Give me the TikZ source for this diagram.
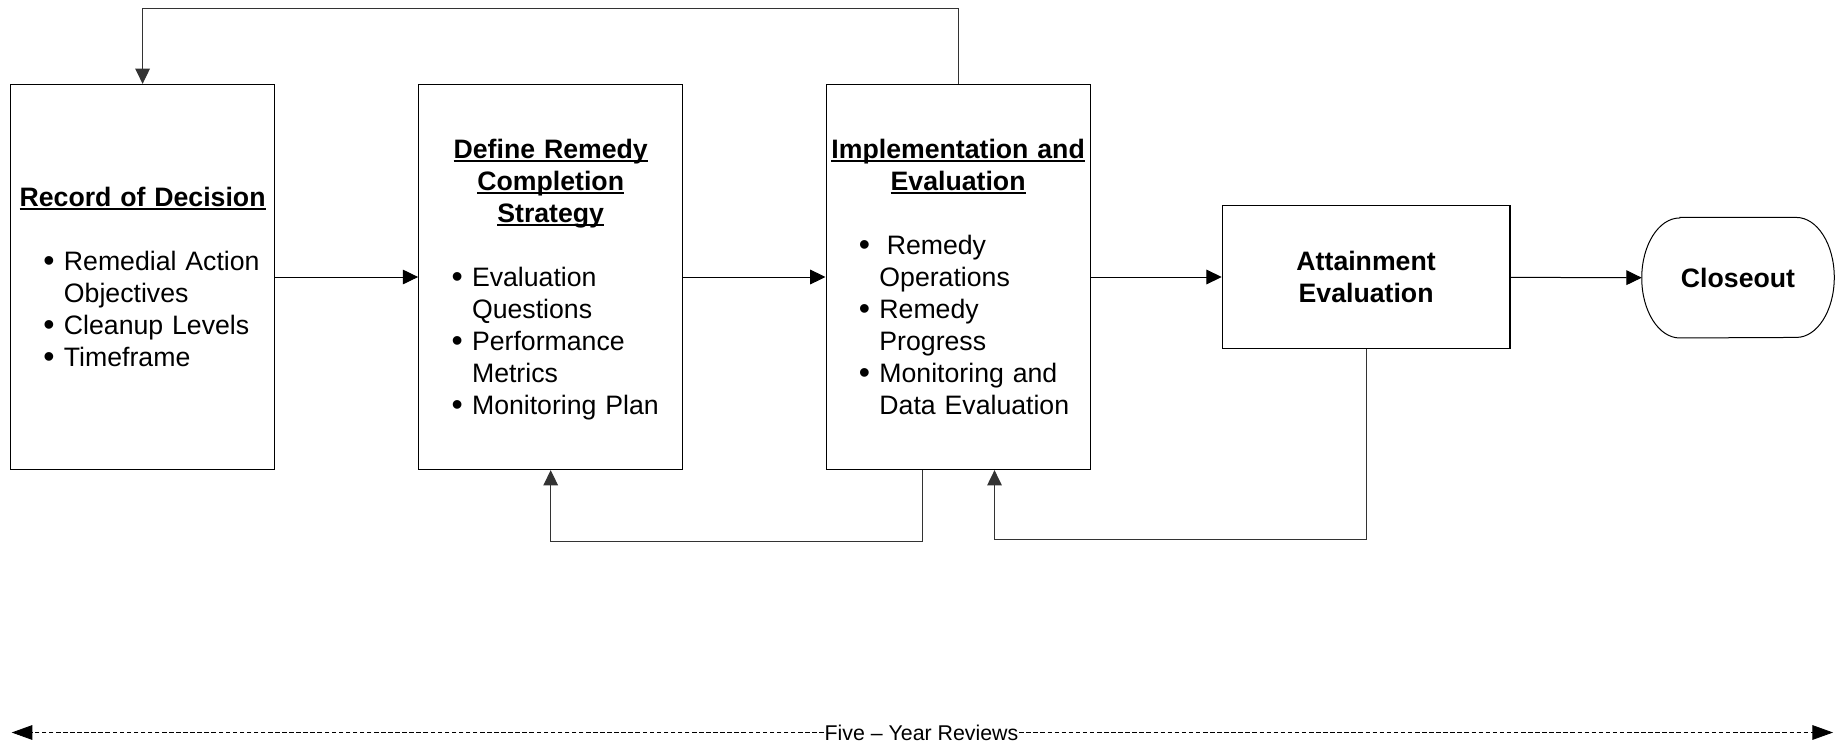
\documentclass[tikz,border=0pt]{standalone}
\usepackage{fontspec}
\setmainfont{Liberation Sans}
\usetikzlibrary{arrows.meta}
\newsavebox\ulbox
\newcommand\ulx[1]{\sbox\ulbox{#1}\leavevmode\rlap{\rule[-2.6pt]{\wd\ulbox}{1.3pt}}\usebox\ulbox}
\newcommand\bul[1]{\par\leavevmode\hangindent=40pt\hangafter=1\hspace*{24.6pt}\makebox[15.4pt][l]{\raisebox{-0.9pt}{\fontsize{24}{24}\selectfont\textbullet}}#1}
\begin{document}
\begin{tikzpicture}[x=0.75pt,y=-0.75pt,
  stagebox/.style={draw, line width=0.9pt, inner sep=0pt, minimum width=198pt,
    minimum height=288.8pt, text width=198pt, font=\fontsize{20}{24}\selectfont},
  smallbox/.style={draw, line width=0.9pt, inner sep=0pt, minimum width=215.7pt,
    minimum height=107.4pt, align=center, font=\bfseries\fontsize{20}{24}\selectfont},
  endshape/.style={inner sep=0pt, minimum width=144pt, minimum height=90pt,
    font=\bfseries\fontsize{20}{24}\selectfont},
  conn/.style={line width=0.75pt, -{Triangle[length=11.5pt,width=11pt]}},
  fline/.style={line width=0.75pt, draw=black!80, -{Triangle[length=11.5pt,width=11pt]}},
  review/.style={line width=0.6pt, dash pattern=on 3.4pt off 1.9pt,
    -{Triangle[length=15.5pt,width=11pt]}},
]
\useasboundingbox (0,0) rectangle (1841,743);

\node[stagebox] (rod) at (142.6,277) {%
  {\centering\bfseries\ulx{Record of Decision}\par}%
  \vspace{24pt}\raggedright
  \bul{Remedial Action\newline Objectives}%
  \bul{Cleanup Levels}%
  \bul{Timeframe}\par};

\node[stagebox] (drc) at (550.7,277) {%
  {\centering\bfseries\ulx{Define Remedy}\par\ulx{Completion}\par\ulx{Strategy}\par}%
  \vspace{24pt}\raggedright
  \bul{Evaluation\newline Questions}%
  \bul{Performance\newline Metrics}%
  \bul{\smash{Monitoring Plan}}\par};

\node[stagebox] (ie) at (958.1,277) {%
  {\centering\bfseries\ulx{Implementation and}\par\ulx{Evaluation}\par}%
  \vspace{24pt}\raggedright
  \bul{\hspace*{5.5pt}Remedy\newline Operations}%
  \bul{Remedy\newline Progress}%
  \bul{Monitoring and\newline Data Evaluation}\par};

\node[smallbox] (ae) at (1366.1,277) {Attainment\\Evaluation};

\node[endshape] (co) at (1738,277.7) {Closeout};
\draw[line width=0.75pt] ([xshift=28.5pt]co.north west) -- ([xshift=-28.5pt]co.north east)
  arc[start angle=-90,end angle=90,x radius=38,y radius=60]
  -- ([xshift=28.5pt]co.south west)
  arc[start angle=90,end angle=270,x radius=38,y radius=60] -- cycle;

\draw[conn] (rod) -- (drc);
\draw[conn] (drc) -- (ie);
\draw[conn] (ie) -- (ae);
\draw[conn] (ae) -- (co.west);

\draw[fline] (ie.north) -- ++(0,-75.1) -| (rod.north);
\draw[fline] ([shift={(-35.3,0)}]ie.south) -- ++(0,71.7) -| (drc.south);
\draw[fline] (ae.south) -- ++(0,190.2) -| ([shift={(36.4,0)}]ie.south);

\coordinate (dl) at (11.7,732.5);
\coordinate (dr) at (1833,732.5);
\node[anchor=base, inner xsep=0.5pt, inner ysep=0pt, font=\fontsize{16}{19}\selectfont] (fyr) at (921.5,740) {Five – Year Reviews};
\draw[review] (fyr.west |- dl) -- (dl);
\draw[review] (fyr.east |- dr) -- (dr);
\end{tikzpicture}
\end{document}
